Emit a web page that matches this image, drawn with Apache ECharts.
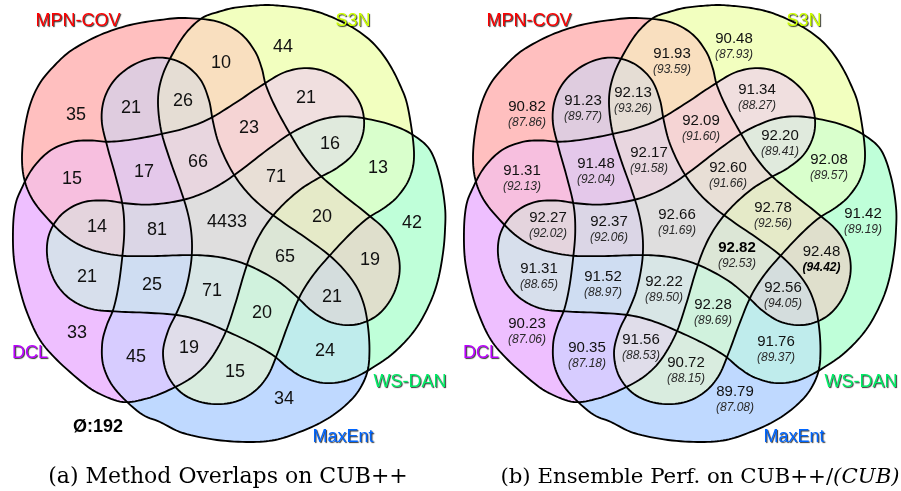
<!DOCTYPE html>
<html><head><meta charset="utf-8">
<script src="https://cdn.jsdelivr.net/npm/echarts/dist/echarts.min.js"></script>
<style>html,body{margin:0;padding:0;background:#fff}#c{width:901px;height:491px}</style>
</head><body><div id="c"></div>
<script>
// ---------------- data ----------------
const setNames = ['MPN-COV', 'S3N', 'WS-DAN', 'MaxEnt', 'DCL'];
const overlapCounts = [35, 21, 26, 10, 44, 21, 23, 16, 13, 15, 17, 66, 71, 20, 42, 14, 81, 4433, 65, 19, 21, 25, 71, 20, 21, 33, 19, 45, 24, 15, 34];
const accCubPP = ['90.82', '91.23', '92.13', '91.93', '90.48', '91.34', '92.09', '92.20', '92.08', '91.31', '91.48', '92.17', '92.60', '92.78', '91.42', '92.27', '92.37', '92.66', '92.82', '92.48', '91.31', '91.52', '92.22', '92.28', '92.56', '90.23', '91.56', '90.35', '91.76', '90.72', '89.79'];
const accCub = ['87.86', '89.77', '93.26', '93.59', '87.93', '88.27', '91.60', '89.41', '89.57', '92.13', '92.04', '91.58', '91.66', '92.56', '89.19', '92.02', '92.06', '91.69', '92.53', '94.42', '88.65', '88.97', '89.50', '89.69', '94.05', '87.06', '88.53', '87.18', '89.37', '88.15', '87.08'];
const emptyCount = 192;
const captionA = '(a) Method Overlaps on CUB++';
const captionB = ['(b) Ensemble Perf. on CUB++/', '(CUB)'];

// ---------------- layout (positions / geometry / styles) ----------------
const W = 901, H = 491, PANEL_B_DX = 451;
const posA = [[76,115],[131,108],[183,101],[221,63],[283,47],[306,98],[249,128],[330,144],[378,168],[72,179],[144,172],[198,162],[276,177],[322,217],[412,223],[97,227],[157,230],[227,222],[285,257],[370,260],[87,277],[152,285],[212,291],[262,313],[332,297],[77,333],[189,348],[136,357],[325,351],[235,372],[284,399]];
const posB = [[527,114.5],[583,108.5],[633,100.5],[672,61.5],[734,46.5],[757,98],[701,129],[780,143.5],[829,168],[522,178.5],[596,171.5],[649,160.5],[728,176],[773,215.5],[863,222],[548,225.5],[609,230],[677,222.5],[737,256],[821.5,259.5],[539,277],[603,285],[664,290],[713,312.5],[783,296],[527,332],[641,347.5],[587,355.5],[776,350],[686,371],[735,399.5]];
const setLabelPos = [[78,21],[353,21],[410,382],[343,437],[30,353]];
const emptyPos = [98,427];
const setColors = ['#FF0000', '#CCFF00', '#00EE66', '#0066FF', '#BB00FF'];
const lightRGB = [[255,191,191],[242,255,191],[191,255,217],[191,217,255],[238,191,255]];
const SANS = 'Liberation Sans, Arial, sans-serif';

const CENTER = [226, 222];
const outerArcs = [
  [[25,182],[22,160],[24,133],[30,105],[40,83],[55,65],[72,50],[100,35],[130,25],[160,20],[185,18],[202,18]],
  [[202,18],[218,12],[233,8],[250,6],[267,5],[283,6],[300,8],[318,12],[336,19],[355,29],[373,43],[388,62],[400,85],[408,108],[413,135]],
  [[413,135],[430,150],[440,177],[445,207],[445,230],[443,253],[438,280],[430,303],[417,327],[400,347],[380,363],[367,373]],
  [[367,373],[357,393],[340,410],[320,423],[297,433],[275,440],[250,442],[217,440],[183,433],[160,422],[140,413],[123,402]],
  [[123,402],[100,394],[83,383],[57,360],[40,340],[28,315],[20,290],[14,260],[13,230],[15,207],[20,192],[25,182]]
];
const rotSteps = [-1, 0, 1, 2, 3];
const baseInterior = [[414,152],[410,177],[398,196],[384,208],[368,218],[351,233],[332,253],[314,274],[300,296],[288,325],[278,352],[267,377],[251,394],[230,403],[205,403],[183,394],[168,376],[163,353],[168,331],[177,312],[185,292],[190,270],[192,250],[191,230],[187,210],[180,188],[170,160],[161,130],[158,100],[162,77],[172,55],[186,33]];

function rotate(p, deg) {
  const a = deg * Math.PI / 180, c = Math.cos(a), s = Math.sin(a);
  const dx = p[0] - CENTER[0], dy = p[1] - CENTER[1];
  return [CENTER[0] + dx * c - dy * s, CENTER[1] + dx * s + dy * c];
}
function catmull(pts, seg) {
  const n = pts.length, out = [];
  for (let i = 0; i < n; i++) {
    const p0 = pts[(i - 1 + n) % n], p1 = pts[i], p2 = pts[(i + 1) % n], p3 = pts[(i + 2) % n];
    for (let s = 0; s < seg; s++) {
      const t = s / seg, t2 = t * t, t3 = t2 * t;
      const f = j => 0.5 * (2 * p1[j] + (-p0[j] + p2[j]) * t + (2 * p0[j] - 5 * p1[j] + 4 * p2[j] - p3[j]) * t2 + (-p0[j] + 3 * p1[j] - 3 * p2[j] + p3[j]) * t3);
      out.push([f(0), f(1)]);
    }
  }
  return out;
}
const shapeCurves = setNames.map((_, k) => {
  const arc = outerArcs[k].slice(0, -1);
  const inner = baseInterior.map(p => rotate(p, 72 * rotSteps[k]));
  return catmull(arc.concat(inner), 8);
});

// all 31 combinations, sorted by size
const subsets = [];
for (let m = 1; m < 32; m++) {
  const mem = [];
  for (let k = 0; k < 5; k++) if (m & (1 << k)) mem.push(k);
  subsets.push(mem);
}
subsets.sort((a, b) => a.length - b.length);
function subsetColor(mem) {
  const c = [0, 0, 0];
  mem.forEach(k => { for (let j = 0; j < 3; j++) c[j] += lightRGB[k][j]; });
  return 'rgb(' + c.map(v => Math.round(v / mem.length)).join(',') + ')';
}

function regionSeries(dx) {
  return {
    type: 'custom', coordinateSystem: 'cartesian2d', silent: true, z: 1, clip: false,
    data: subsets.map((_, i) => [i]),
    renderItem(params, api) {
      const mem = subsets[params.dataIndex];
      const pts = k => shapeCurves[k].map(p => api.coord([p[0] + dx, p[1]]));
      let el = { type: 'polygon', shape: { points: pts(mem[0]) }, style: { fill: subsetColor(mem), stroke: null } };
      for (let j = 1; j < mem.length; j++) {
        el = { type: 'group', children: [el], clipPath: { type: 'polygon', shape: { points: pts(mem[j]) } } };
      }
      return el;
    }
  };
}
function outlineSeries(dx) {
  return {
    type: 'custom', coordinateSystem: 'cartesian2d', silent: true, z: 3, clip: false,
    data: setNames.map((_, k) => [k]),
    renderItem(params, api) {
      const k = params.dataIndex;
      return { type: 'polygon', shape: { points: shapeCurves[k].map(p => api.coord([p[0] + dx, p[1]])) },
        style: { fill: null, stroke: '#000', lineWidth: 1.85 } };
    }
  };
}
const hiddenSymbol = { symbolSize: 1, itemStyle: { color: 'rgba(0,0,0,0)', opacity: 1 }, silent: true, emphasis: { disabled: true } };
function setLabelSeries(dx) {
  return Object.assign({
    type: 'scatter', z: 5,
    data: setLabelPos.map((p, k) => ({ value: [p[0] + dx, p[1]], label: { color: setColors[k] } })),
    label: {
      show: true, position: 'inside', opacity: 1,
      formatter: p => setNames[p.dataIndex],
      fontFamily: SANS, fontSize: 18,
      textShadowColor: 'rgba(0,0,0,0.8)', textShadowBlur: 1, textShadowOffsetX: 1, textShadowOffsetY: 1
    }
  }, hiddenSymbol);
}
const bestPP = accCubPP.reduce((b, v, i, a) => (+v > +a[b] ? i : b), 0);
const bestC = accCub.reduce((b, v, i, a) => (+v > +a[b] ? i : b), 0);

const option = {
  animation: false,
  backgroundColor: '#fff',
  grid: { left: 0, right: 0, top: 0, bottom: 0 },
  xAxis: { type: 'value', min: 0, max: W, show: false },
  yAxis: { type: 'value', min: 0, max: H, inverse: true, show: false },
  series: [
    regionSeries(0), regionSeries(PANEL_B_DX),
    outlineSeries(0), outlineSeries(PANEL_B_DX),
    Object.assign({
      type: 'scatter', z: 6,
      data: posA,
      label: { show: true, position: 'inside', opacity: 1, formatter: p => String(overlapCounts[p.dataIndex]),
        fontFamily: SANS, fontSize: 18, color: '#111' }
    }, hiddenSymbol),
    Object.assign({
      type: 'scatter', z: 6,
      data: posB,
      label: { show: true, position: 'inside', opacity: 1,
        formatter: p => '{' + (p.dataIndex === bestPP ? 'mb' : 'm') + '|' + accCubPP[p.dataIndex] + '}\n{' + (p.dataIndex === bestC ? 'sb' : 's') + '|(' + accCub[p.dataIndex] + ')}',
        rich: {
          m: { fontFamily: SANS, fontSize: 15, color: '#111', lineHeight: 15.5 },
          mb: { fontFamily: SANS, fontSize: 15, fontWeight: 'bold', color: '#000', lineHeight: 15.5 },
          s: { fontFamily: SANS, fontSize: 12, fontStyle: 'italic', color: '#2a2a2a', lineHeight: 15.5 },
          sb: { fontFamily: SANS, fontSize: 12, fontStyle: 'italic', fontWeight: 'bold', color: '#000', lineHeight: 15.5 }
        } }
    }, hiddenSymbol),
    setLabelSeries(0),
    setLabelSeries(PANEL_B_DX),
    Object.assign({
      type: 'scatter', z: 6,
      data: [emptyPos],
      label: { show: true, position: 'inside', opacity: 1, formatter: () => '\u00D8:' + emptyCount,
        fontFamily: SANS, fontSize: 18, fontWeight: 'bold', color: '#000' }
    }, hiddenSymbol)
  ],
  graphic: [
    { type: 'text', x: 228, y: 477, silent: true,
      style: { text: captionA, font: '22px "DejaVu Serif", serif', fill: '#000', align: 'center', verticalAlign: 'middle' } },
    { type: 'text', x: 700, y: 477, silent: true,
      style: { text: '{n|' + captionB[0] + '}{i|' + captionB[1] + '}', align: 'center', verticalAlign: 'middle',
        rich: { n: { fontFamily: 'DejaVu Serif, serif', fontSize: 21.3, fill: '#000' },
                i: { fontFamily: 'DejaVu Serif, serif', fontSize: 21.3, fontStyle: 'italic', fill: '#000' } } } }
  ]
};
const chart = echarts.init(document.getElementById('c'), null, { renderer: 'canvas' });
chart.setOption(option);
</script>
</body></html>
